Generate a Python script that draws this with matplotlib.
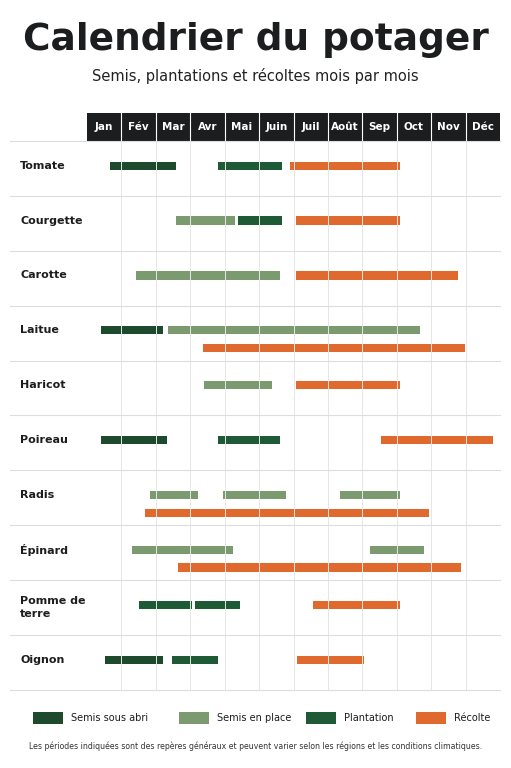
import matplotlib.pyplot as plt
from matplotlib.patches import Rectangle

months = ["Jan", "Fév", "Mar", "Avr", "Mai", "Juin", "Juil", "Août", "Sep", "Oct", "Nov", "Déc"]
crops = ["Tomate", "Courgette", "Carotte", "Laitue", "Haricot", "Poireau",
         "Radis", "Épinard", "Pomme de\nterre", "Oignon"]

# (crop index, lane, start month, end month, kind)  months as 0..12 fractional
periods = [
    (0, 0, 0.67, 2.59, "abri"), (0, 0, 3.81, 5.67, "plant"), (0, 0, 5.9, 9.1, "recolte"),
    (1, 0, 2.59, 4.3, "place"), (1, 0, 4.39, 5.67, "plant"), (1, 0, 6.08, 9.1, "recolte"),
    (2, 0, 1.42, 5.61, "place"), (2, 0, 6.08, 10.78, "recolte"),
    (3, 0, 0.41, 2.2, "abri"), (3, 0, 2.35, 9.68, "place"), (3, 1, 3.37, 10.99, "recolte"),
    (4, 0, 3.4, 5.38, "place"), (4, 0, 6.08, 9.1, "recolte"),
    (5, 0, 0.41, 2.33, "abri"), (5, 0, 3.81, 5.61, "plant"), (5, 0, 8.55, 11.8, "recolte"),
    (6, 0, 1.83, 3.23, "place"), (6, 0, 3.95, 5.78, "place"), (6, 0, 7.35, 9.1, "place"),
    (6, 1, 1.69, 9.94, "recolte"),
    (7, 0, 1.31, 4.24, "place"), (7, 0, 8.23, 9.8, "place"), (7, 1, 2.65, 10.87, "recolte"),
    (8, 0, 1.51, 3.05, "plant"), (8, 0, 3.14, 4.45, "plant"), (8, 0, 6.57, 9.1, "recolte"),
    (9, 0, 0.52, 2.2, "abri"), (9, 0, 2.47, 3.81, "plant"), (9, 0, 6.1, 8.05, "recolte"),
]

legend_labels = {"abri": "Semis sous abri", "place": "Semis en place",
                 "plant": "Plantation", "recolte": "Récolte"}
colors = {"abri": "#1d4a2c", "place": "#7c9a70", "plant": "#1f5a36", "recolte": "#e06a2e"}

W, H = 511, 768
fig = plt.figure(figsize=(W / 100, H / 100), dpi=100)
fig.patch.set_facecolor("white")

# grid axes: x 87..500 px, y 113..690 px (header + 10 rows)
x0, x1, y0, y1 = 87, 500, 113, 690
ax = fig.add_axes([x0 / W, 1 - y1 / H, (x1 - x0) / W, (y1 - y0) / H])
hdr = 28 / 55
ax.set_xlim(0, 12)
ax.set_ylim(len(crops), -hdr)
ax.axis("off")

# header
ax.add_patch(Rectangle((0, -hdr), 12, hdr, color="#1b1d1f", lw=0))
for i, m in enumerate(months):
    ax.text(i + 0.5, -hdr / 2, m, color="white", ha="center", va="center",
            fontsize=7.5, fontweight="bold")
    if i > 0:
        ax.plot([i, i], [-hdr, 0], color="white", lw=0.8)
        ax.plot([i, i], [0, len(crops)], color="#e6e6e6", lw=0.7)

label_x = (10 - x0) / (x1 - x0) * 12
for r, c in enumerate(crops):
    ax.plot([label_x, 12], [r + 1, r + 1], color="#dddddd", lw=0.8, clip_on=False)
    ax.text(label_x + 0.3, r + (0.45 if "\n" not in c else 0.5), c, ha="left",
            va="center", fontsize=8, fontweight="bold", color="#1b1d1f", linespacing=1.3)
ax.plot([label_x, 12], [0, 0], color="#dddddd", lw=0.8, clip_on=False)

bh = 0.15
for r, lane, s, e, k in periods:
    yc = r + (0.45 if lane == 0 else 0.77)
    ax.add_patch(Rectangle((s, yc - bh / 2), e - s, bh, color=colors[k], lw=0))

fig.text(0.5, 1 - 40 / H, "Calendrier du potager", ha="center", va="center",
         fontsize=27, fontweight="bold", color="#1b1d1f")
fig.text(0.5, 1 - 76 / H, "Semis, plantations et récoltes mois par mois", ha="center",
         va="center", fontsize=10.5, color="#222222")

# legend
lx = [33, 179, 306, 416]
for x, k in zip(lx, ["abri", "place", "plant", "recolte"]):
    fig.patches.append(Rectangle((x / W, 1 - 724 / H), 30 / W, 12 / H,
                                 color=colors[k], lw=0, transform=fig.transFigure))
    fig.text((x + 38) / W, 1 - 718 / H, legend_labels[k], ha="left", va="center",
             fontsize=7, color="#1b1d1f")

fig.text(0.5, 1 - 746 / H,
         "Les périodes indiquées sont des repères généraux et peuvent varier selon les régions et les conditions climatiques.",
         ha="center", va="center", fontsize=5.6, color="#333333")

fig.savefig("out.png", dpi=100)
